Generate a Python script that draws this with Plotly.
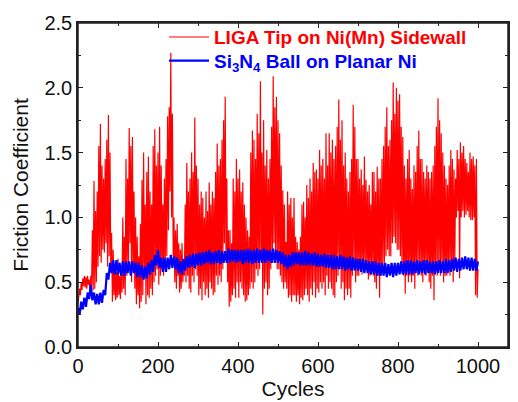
import plotly.graph_objects as go

# Red series sampled every 2 cycles, blue series every 4 cycles (0..1000)
red_cycles = list(range(0, 1001, 2))
blue_cycles = list(range(0, 1001, 4))

# LIGA tip on Ni(Mn) sidewall – friction coefficient
red_values = [
    0.33, 0.38, 0.45, 0.40, 0.50, 0.44, 0.53, 0.47, 0.55, 0.46,
    0.54, 0.45, 0.55, 0.48, 0.52, 0.43, 0.55, 0.47, 0.90, 0.44,
    1.28, 0.45, 1.05, 0.50, 1.20, 0.62, 1.55, 0.70, 1.72, 0.65,
    1.40, 0.75, 1.30, 0.73, 1.45, 0.80, 1.60, 0.62, 1.79, 0.70,
    1.50, 0.60, 0.88, 0.35, 0.75, 0.40, 0.62, 0.36, 0.58, 0.38,
    0.68, 0.40, 0.55, 0.37, 0.62, 0.42, 1.00, 0.45, 0.85, 0.40,
    1.45, 0.55, 1.30, 0.60, 1.69, 0.80, 1.55, 0.50, 1.62, 0.60,
    1.20, 0.45, 1.00, 0.33, 0.85, 0.40, 0.70, 0.30, 0.95, 0.35,
    1.29, 0.40, 1.50, 0.55, 1.10, 0.33, 1.35, 0.40, 1.47, 0.38,
    1.20, 0.45, 1.10, 0.40, 1.55, 0.50, 1.68, 0.55, 1.40, 0.60,
    1.50, 0.48, 1.70, 0.55, 1.40, 0.60, 1.10, 0.55, 1.30, 0.60,
    1.45, 0.70, 1.78, 0.90, 1.85, 1.20, 2.27, 1.00, 1.80, 0.70,
    1.00, 0.50, 0.90, 0.45, 0.95, 0.55, 0.80, 0.42, 0.75, 0.45,
    0.80, 0.50, 0.65, 0.55, 1.10, 0.50, 1.42, 0.55, 1.20, 0.45,
    1.30, 0.42, 1.50, 0.55, 1.35, 0.50, 1.77, 0.60, 1.40, 0.55,
    1.30, 0.40, 1.10, 0.45, 1.20, 0.36, 1.15, 0.50, 1.00, 0.40,
    1.20, 0.45, 1.05, 0.38, 1.27, 0.50, 1.10, 0.45, 1.20, 0.40,
    1.15, 0.42, 1.35, 0.55, 1.57, 0.48, 1.40, 0.55, 1.45, 0.50,
    1.60, 0.60, 1.75, 0.80, 1.93, 0.70, 1.30, 0.50, 0.90, 0.31,
    0.90, 0.35, 0.80, 0.40, 1.30, 0.45, 1.20, 0.38, 1.45, 0.50,
    1.30, 0.38, 1.37, 0.50, 1.20, 0.45, 1.27, 0.40, 1.10, 0.35,
    1.00, 0.36, 0.90, 0.40, 0.85, 0.45, 1.50, 0.50, 1.67, 0.45,
    1.60, 0.50, 1.45, 0.60, 1.80, 0.55, 1.65, 0.60, 2.05, 0.70,
    1.50, 0.25, 1.75, 0.45, 1.40, 0.50, 1.52, 0.40, 1.30, 0.45,
    1.45, 0.60, 1.70, 0.65, 2.09, 0.80, 1.85, 0.70, 1.93, 0.60,
    1.75, 0.60, 1.65, 0.55, 1.40, 0.50, 1.21, 0.45, 1.10, 0.50,
    0.81, 0.45, 1.20, 0.38, 1.10, 0.40, 1.15, 0.35, 1.00, 0.40,
    1.15, 0.40, 0.85, 0.35, 0.81, 0.40, 0.75, 0.33, 0.85, 0.38,
    1.10, 0.36, 1.12, 0.40, 1.00, 0.45, 1.25, 0.40, 1.15, 0.35,
    1.30, 0.45, 1.20, 0.40, 1.42, 0.50, 1.35, 0.38, 1.37, 0.45,
    1.30, 0.42, 1.52, 0.50, 1.40, 0.45, 1.45, 0.50, 1.30, 0.40,
    1.65, 0.55, 1.40, 0.45, 1.65, 0.50, 1.50, 0.45, 1.60, 0.40,
    1.45, 0.38, 1.55, 0.50, 1.70, 0.55, 1.91, 0.60, 1.60, 0.45,
    1.75, 0.50, 1.40, 0.36, 1.50, 0.45, 1.30, 0.40, 1.20, 0.45,
    1.35, 0.38, 1.45, 0.55, 1.87, 0.60, 1.70, 0.50, 1.45, 0.55,
    1.45, 0.55, 1.30, 0.60, 1.37, 0.56, 1.25, 0.58, 1.47, 0.60,
    1.29, 0.60, 1.20, 0.52, 1.25, 0.55, 1.10, 0.60, 1.35, 0.55,
    1.35, 0.50, 1.20, 0.45, 1.39, 0.55, 1.30, 0.38, 1.30, 0.55,
    1.45, 0.60, 1.55, 0.65, 1.70, 0.70, 1.85, 0.75, 1.55, 0.70,
    1.60, 0.70, 1.75, 0.80, 2.04, 0.85, 1.80, 0.80, 2.00, 0.75,
    1.90, 0.75, 1.95, 0.70, 1.70, 0.60, 1.62, 0.55, 1.40, 0.41,
    1.30, 0.55, 1.45, 0.50, 1.52, 0.55, 1.30, 0.50, 1.22, 0.55,
    1.40, 0.45, 1.35, 0.60, 1.55, 0.55, 1.67, 0.60, 1.45, 0.55,
    1.45, 0.50, 1.35, 0.60, 1.30, 0.55, 1.40, 0.60, 1.35, 0.50,
    1.30, 0.45, 1.35, 0.55, 1.40, 0.36, 1.55, 0.60, 1.70, 0.55,
    1.92, 0.60, 1.75, 0.55, 1.65, 0.60, 1.50, 0.50, 1.40, 0.55,
    1.30, 0.55, 1.25, 0.60, 1.40, 0.55, 1.52, 0.60, 1.45, 0.50,
    1.37, 0.65, 1.30, 1.00, 1.52, 1.05, 1.45, 0.53, 1.58, 1.00,
    1.50, 1.05, 1.55, 1.00, 1.45, 1.02, 1.42, 1.05, 1.35, 1.00,
    1.50, 0.98, 1.45, 0.98, 1.47, 1.00, 1.40, 0.40, 1.45, 0.38,
    0.60,
]

# Si3N4 ball on planar Ni – friction coefficient
blue_values = [
    0.30, 0.25, 0.35, 0.29, 0.38, 0.31, 0.42, 0.37, 0.48, 0.36,
    0.42, 0.33, 0.41, 0.33, 0.42, 0.34, 0.44, 0.40, 0.57, 0.52,
    0.65, 0.57, 0.67, 0.56, 0.67, 0.56, 0.65, 0.55, 0.66, 0.55,
    0.66, 0.57, 0.66, 0.55, 0.66, 0.57, 0.65, 0.54, 0.65, 0.54,
    0.63, 0.52, 0.62, 0.53, 0.65, 0.56, 0.67, 0.58, 0.71, 0.63,
    0.75, 0.61, 0.69, 0.58, 0.69, 0.58, 0.69, 0.60, 0.71, 0.61,
    0.70, 0.60, 0.69, 0.57, 0.66, 0.56, 0.68, 0.59, 0.70, 0.61,
    0.71, 0.62, 0.72, 0.61, 0.72, 0.63, 0.73, 0.63, 0.73, 0.64,
    0.74, 0.65, 0.75, 0.64, 0.73, 0.64, 0.74, 0.65, 0.75, 0.64,
    0.74, 0.65, 0.74, 0.65, 0.76, 0.65, 0.75, 0.66, 0.75, 0.65,
    0.75, 0.66, 0.75, 0.64, 0.75, 0.65, 0.76, 0.65, 0.75, 0.64,
    0.75, 0.65, 0.76, 0.65, 0.75, 0.65, 0.76, 0.65, 0.75, 0.66,
    0.75, 0.65, 0.76, 0.65, 0.75, 0.65, 0.74, 0.64, 0.73, 0.62,
    0.71, 0.60, 0.71, 0.62, 0.73, 0.63, 0.73, 0.64, 0.73, 0.63,
    0.73, 0.63, 0.74, 0.63, 0.73, 0.63, 0.72, 0.63, 0.73, 0.62,
    0.72, 0.62, 0.71, 0.62, 0.72, 0.61, 0.71, 0.61, 0.71, 0.60,
    0.71, 0.60, 0.70, 0.60, 0.71, 0.60, 0.70, 0.59, 0.69, 0.60,
    0.70, 0.59, 0.69, 0.59, 0.68, 0.59, 0.68, 0.58, 0.68, 0.57,
    0.67, 0.57, 0.66, 0.56, 0.66, 0.56, 0.66, 0.55, 0.65, 0.55,
    0.65, 0.55, 0.65, 0.54, 0.64, 0.55, 0.65, 0.54, 0.65, 0.55,
    0.65, 0.56, 0.66, 0.56, 0.66, 0.56, 0.67, 0.56, 0.67, 0.56,
    0.66, 0.57, 0.67, 0.56, 0.66, 0.57, 0.67, 0.56, 0.67, 0.57,
    0.66, 0.57, 0.66, 0.56, 0.66, 0.57, 0.67, 0.57, 0.66, 0.57,
    0.68, 0.57, 0.67, 0.58, 0.68, 0.59, 0.69, 0.58, 0.68, 0.59,
    0.69, 0.60, 0.70, 0.60, 0.69, 0.59, 0.69, 0.59, 0.68, 0.59,
    0.66,
]

x_range = [0, 1075]
y_range = [0, 2.5]
x_ticks = [0, 200, 400, 600, 800, 1000]
y_ticks = [0.0, 0.5, 1.0, 1.5, 2.0, 2.5]
y_tick_labels = ["0.0", "0.5", "1.0", "1.5", "2.0", "2.5"]

red_name = "<span style='color:#ff0000'><b>LIGA Tip on Ni(Mn) Sidewall</b></span>"
blue_name = "<span style='color:#0000ff'><b>Si<sub>3</sub>N<sub>4</sub> Ball on Planar Ni</b></span>"

FONT = "Arial, 'Liberation Sans', sans-serif"
AXC = "#222222"

fig = go.Figure()
fig.add_trace(go.Scatter(x=red_cycles, y=red_values, mode="lines",
                         line=dict(color="#ff0000", width=1.2), name=red_name,
                         legend="legend"))
fig.add_trace(go.Scatter(x=blue_cycles, y=blue_values, mode="lines",
                         line=dict(color="#0000ff", width=2.2), name=blue_name,
                         legend="legend2"))

axis_common = dict(
    showline=True, linecolor=AXC, linewidth=1.5, mirror="ticks",
    ticks="inside", ticklen=5, tickwidth=1, tickcolor=AXC,
    showgrid=False, zeroline=False, automargin=False, ticklabeloverflow="allow",
    tickfont=dict(family=FONT, size=20, color="#111111"),
)
x_minor = dict(dtick=100, tick0=0, ticks="inside", ticklen=3, tickcolor=AXC)
y_minor = dict(dtick=0.25, tick0=0, ticks="inside", ticklen=3, tickcolor=AXC)

legend_common = dict(xanchor="left", yanchor="top", bgcolor="rgba(0,0,0,0)",
                     borderwidth=0, font=dict(family=FONT, size=19), itemwidth=40)

fig.update_layout(
    width=518, height=402,
    margin=dict(l=70, r=18, t=10, b=63),
    plot_bgcolor="white", paper_bgcolor="white",
    font=dict(family=FONT, size=20, color="#111111"),
    showlegend=True,
    legend=dict(x=0.2, y=1.015, **legend_common),
    legend2=dict(x=0.2, y=0.942, **legend_common),
    xaxis=dict(range=x_range, tickvals=x_ticks, minor=x_minor,
               title=dict(text="Cycles", font=dict(family=FONT, size=21), standoff=4),
               **axis_common),
    yaxis=dict(range=y_range, tickvals=y_ticks, ticktext=y_tick_labels, minor=y_minor,
               title=dict(text="Friction Coefficient", font=dict(family=FONT, size=21), standoff=10),
               **axis_common),
    # plot frame (box around the plotting area)
    shapes=[dict(type="rect", xref="paper", yref="paper", x0=0, y0=0, x1=1, y1=1,
                 line=dict(color=AXC, width=1.5), fillcolor="rgba(0,0,0,0)", layer="above")],
)

fig.write_html("out.html")
